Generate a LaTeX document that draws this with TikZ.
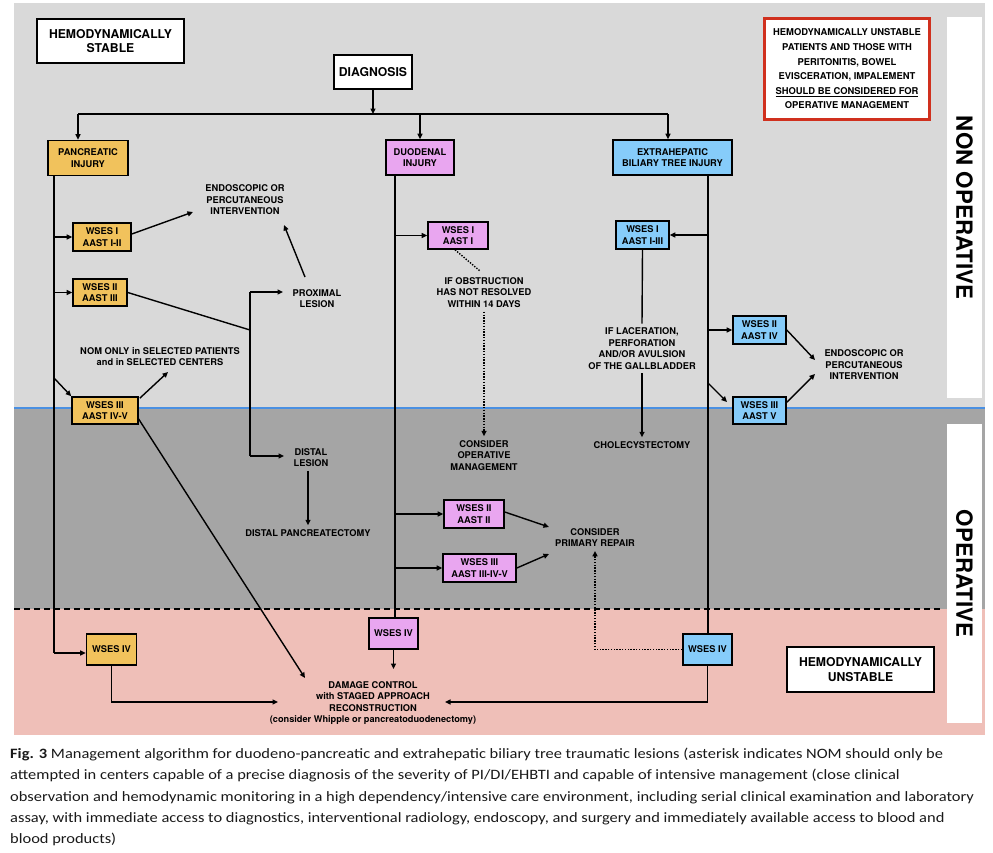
\documentclass[tikz,border=0pt]{standalone}
\usepackage{fontspec}
\setmainfont{TeX Gyre Heros}
\newfontfamily\capfont[FakeStretch=1.15]{Carlito}
\usetikzlibrary{arrows.meta,calc}
\definecolor{lgray}{RGB}{217,217,217}
\definecolor{dgray}{RGB}{165,165,165}
\definecolor{pinkc}{RGB}{239,191,184}
\definecolor{bluel}{RGB}{74,144,226}
\definecolor{panccol}{RGB}{241,194,92}
\definecolor{duodcol}{RGB}{233,166,240}
\definecolor{ebtcol}{RGB}{134,204,250}
\definecolor{redc}{RGB}{208,48,30}
\newcommand\smallf{\fontsize{9.3}{11.5}\selectfont\bfseries}
\newcommand\bigf{\fontsize{12.2}{14.3}\selectfont\bfseries}
\newcommand\redf{\fontsize{9.4}{14.6}\selectfont\bfseries}
\newcommand\bandf{\fontsize{22.3}{24}\selectfont\bfseries}
\newcommand\capf{\capfont\fontsize{14.3}{21.2}\selectfont}
\tikzset{
  conn/.style={line width=1.4pt, draw=black},
  arr/.style={conn, -{Triangle[length=5.5pt,width=5pt]}},
  dotl/.style={conn, dash pattern=on 1.4pt off 1.4pt},
  dotarr/.style={dotl, -{Triangle[length=5.5pt,width=5pt]}},
  box/.style={draw=black, line width=1.6pt, inner sep=0pt, align=center, font=\smallf},
  wbox/.style={box, fill=white, font=\bigf},
  pbox/.style={box, fill=panccol},
  dbox/.style={box, fill=duodcol},
  ebox/.style={box, fill=ebtcol},
  lbl/.style={inner sep=4pt, align=center, font=\smallf},
  band/.style={fill=white, rotate=-90, inner sep=0pt, minimum height=35, font=\bandf}
}
\begin{document}
\begin{tikzpicture}[x=1pt,y=-1pt]
\useasboundingbox (0,0) rectangle (993,852);
% backgrounds
\fill[lgray] (14,3) rectangle (985,408);
\fill[dgray] (14,408) rectangle (985,609);
\fill[pinkc] (14,609) rectangle (985,735);
\draw[bluel, line width=2pt] (14,408) -- (985,408);
\draw[line width=1.6pt, dash pattern=on 6pt off 4pt] (14,609) -- (940,609);
\node[band, minimum width=381] (nonop) at (964.5,207.5) {NON OPERATIVE};
\node[band, minimum width=299] (oper) at (964.5,573.5) {OPERATIVE};

% top boxes
\node[wbox, minimum width=147, minimum height=44] (hs) at (110.5,41) {HEMODYNAMICALLY\\STABLE};
\node[wbox, minimum width=78, minimum height=34] (diag) at (373,72) {DIAGNOSIS};
\node[draw=redc, line width=3pt, fill=white, minimum width=165, minimum height=101, inner sep=0pt, align=center, font=\redf] (red) at (847,69)
  {HEMODYNAMICALLY UNSTABLE\\PATIENTS AND THOSE WITH\\PERITONITIS, BOWEL\\EVISCERATION, IMPALEMENT\\\underline{SHOULD BE CONSIDERED FOR}\\OPERATIVE MANAGEMENT};
\node[wbox, minimum width=147, minimum height=45] (hu) at (860.5,669.5) {HEMODYNAMICALLY\\UNSTABLE};

% injury boxes
\node[pbox, minimum width=80, minimum height=35] (panc) at (88,158) {PANCREATIC\\INJURY};
\node[dbox, minimum width=68, minimum height=35] (duod) at (420,157.5) {DUODENAL\\INJURY};
\node[ebox, minimum width=119, minimum height=35] (ebt) at (672.5,157.5) {EXTRAHEPATIC\\BILIARY TREE INJURY};

% pancreatic grades
\node[pbox, minimum width=58, minimum height=28] (p1) at (102,237) {WSES I\\AAST I-II};
\node[pbox, minimum width=54, minimum height=27] (p2) at (100,292.5) {WSES II\\AAST III};
\node[pbox, minimum width=66, minimum height=27] (p3) at (105,410.5) {WSES III\\AAST IV-V};
\node[pbox, minimum width=50, minimum height=31] (p4) at (111.5,649.5) {WSES IV};

% duodenal grades
\node[dbox, minimum width=60, minimum height=27] (d1) at (458,235.5) {WSES I\\AAST I};
\node[dbox, minimum width=60, minimum height=28] (d2) at (474,514) {WSES II\\AAST II};
\node[dbox, minimum width=73, minimum height=28] (d3) at (479.5,568) {WSES III\\AAST III-IV-V};
\node[dbox, minimum width=49, minimum height=31] (d4) at (393.5,633.5) {WSES IV};

% biliary grades
\node[ebox, minimum width=53, minimum height=28] (e1) at (642.5,235) {WSES I\\AAST I-III};
\node[ebox, minimum width=53, minimum height=28] (e2) at (759.5,330) {WSES II\\AAST IV};
\node[ebox, minimum width=53, minimum height=27] (e3) at (759.5,410.5) {WSES III\\AAST V};
\node[ebox, minimum width=49, minimum height=31] (e4) at (707.5,649.5) {WSES IV};

% labels
\node[lbl] (endo1) at (245,200) {ENDOSCOPIC OR\\PERCUTANEOUS\\INTERVENTION};
\node[lbl] (prox) at (317,298.5) {PROXIMAL\\LESION};
\node[lbl] (distal) at (311,457.5) {DISTAL\\LESION};
\node[lbl] (distpanc) at (308,533) {DISTAL PANCREATECTOMY};
\node[lbl] (nom) at (160,356.5) {NOM ONLY in SELECTED PATIENTS\\and in SELECTED CENTERS};
\node[lbl] (dmg) at (373,703) {DAMAGE CONTROL\\with STAGED APPROACH\\RECONSTRUCTION\\{\fontsize{9.2}{11.5}\selectfont (consider Whipple or pancreatoduodenectomy)}};
\node[lbl] (obst) at (484,292.5) {IF OBSTRUCTION\\HAS NOT RESOLVED\\WITHIN 14 DAYS};
\node[lbl] (consop) at (484,455.5) {CONSIDER\\OPERATIVE\\MANAGEMENT};
\node[lbl] (primrep) at (595,537.5) {CONSIDER\\PRIMARY REPAIR};
\node[lbl] (lacer) at (642,348.5) {IF LACERATION,\\PERFORATION\\AND/OR AVULSION\\OF THE GALLBLADDER};
\node[lbl] (chole) at (642,445) {CHOLECYSTECTOMY};
\node[lbl] (endo2) at (864,365) {ENDOSCOPIC OR\\PERCUTANEOUS\\INTERVENTION};

% named coordinates
\coordinate (hub) at (373,114);
\coordinate (hl) at (78,114);
\coordinate (hr) at (668,114);
\coordinate (pTop) at (54,176);
\coordinate (pBot) at (54,653);
\coordinate (pj3) at (54,378);
\coordinate (a1) at (193,212);
\coordinate (proxOut) at (305,277);
\coordinate (endoIn) at (284,225);
\coordinate (pj) at (250,330);
\coordinate (vtop) at (250,292);
\coordinate (vbot) at (250,456);
\coordinate (proxIn) at (283,292);
\coordinate (distIn) at (284,456);
\coordinate (nomIn) at (168,372);
\coordinate (p3out) at (138,418);
\coordinate (dmgA) at (305,678);
\coordinate (dmgIn1) at (278,702);
\coordinate (dmgIn2) at (445,702);
\coordinate (dmgTop) at (393.5,669);
\coordinate (dTop) at (395,175);
\coordinate (obstIn) at (480,271);
\coordinate (prIn1) at (549,527);
\coordinate (prIn2) at (549,554);
\coordinate (eTop) at (708,175);
\coordinate (ej3) at (708,383);
\coordinate (e3in) at (727,402);
\coordinate (endo2a) at (815,360);
\coordinate (endo2b) at (815,374);

% top connectors
\draw[arr] (diag.south) -- (hub);
\draw[conn] (hl) -- (hr);
\draw[arr] (hl) -- (hl |- panc.north);
\draw[arr] (duod.north |- hub) -- (duod.north);
\draw[arr] (hr) -- (hr |- ebt.north);

% pancreatic
\draw[conn] (pTop) -- (pBot);
\draw[arr] (pBot) -- (p4.west |- pBot);
\draw[arr] (pTop |- p1.west) -- (p1.west);
\draw[arr] (pTop |- p2.west) -- (p2.west);
\draw[arr] (pj3) -- (p3.north west);
\draw[arr] ($(p1.east)+(0,-3)$) -- (a1);
\draw[arr] (proxOut) -- (endoIn);
\draw[conn] (p2.east) -- (pj);
\draw[conn] (vtop) -- (vbot);
\draw[arr] (vtop) -- (proxIn);
\draw[arr] (vbot) -- (distIn);
\draw[arr] (distal.south -| distpanc) -- (distpanc.north);
\draw[arr] ($(p3.north east)+(1,2)$) -- (nomIn);
\draw[arr] (p3out) -- (dmgA);
\draw[arr] (p4.south) |- (dmgIn1);

% duodenal
\draw[conn] (dTop) -- (dTop |- d4.north);
\draw[arr] (dTop |- d1.west) -- (d1.west);
\draw[arr] (dTop |- d2.west) -- (d2.west);
\draw[arr] (dTop |- d3.west) -- (d3.west);
\draw[dotl] ($(d1.south)+(-3,0)$) -- (obstIn);
\draw[dotarr] (obst.south) -- (consop.north);
\draw[arr] ($(d2.east)+(0,-2)$) -- (prIn1);
\draw[arr] (d3.east) -- (prIn2);
\draw[arr] (d4.south) -- (dmgTop);

% biliary
\draw[conn] (eTop) -- (eTop |- e4.north);
\draw[arr] (eTop |- e1.east) -- (e1.east);
\draw[conn] (e1.south) -- (lacer.north);
\draw[arr] (lacer.south) -- (chole.north);
\draw[arr] (eTop |- e2.west) -- (e2.west);
\draw[arr] (ej3) -- (e3in);
\draw[arr] (e2.east) -- (endo2a);
\draw[arr] ($(e3.north east)+(0,6)$) -- (endo2b);
\draw[dotarr] (e4.west) -| (primrep.south);
\draw[arr] (e4.south) |- (dmgIn2);

% caption
\node[anchor=north west, align=left, inner sep=0pt, font=\capf, text=black!90] (cap) at (10,748)
{\textbf{Fig. 3} Management algorithm for duodeno-pancreatic and extrahepatic biliary tree traumatic lesions (asterisk indicates NOM should only be\\
attempted in centers capable of a precise diagnosis of the severity of PI/DI/EHBTI and capable of intensive management (close clinical\\
observation and hemodynamic monitoring in a high dependency/intensive care environment, including serial clinical examination and laboratory\\
assay, with immediate access to diagnostics, interventional radiology, endoscopy, and surgery and immediately available access to blood and\\
blood products)};
\end{tikzpicture}
\end{document}
